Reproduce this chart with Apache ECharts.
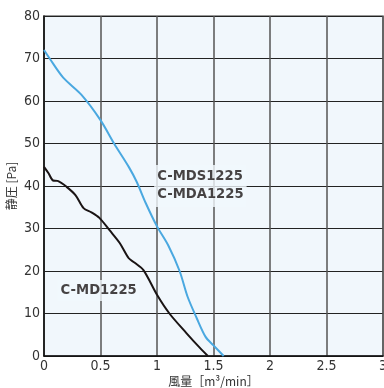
<!DOCTYPE html>
<html><head><meta charset="utf-8">
<script src="https://cdn.jsdelivr.net/npm/echarts@6/dist/echarts.min.js"></script>
<style>html,body{margin:0;padding:0;background:#fff}#c{width:384px;height:388px}</style>
</head><body><div id="c"></div>
<script>
const xTicks = ['0','0.5','1','1.5','2','2.5','3'];
const yTicks = [0,10,20,30,40,50,60,70,80];
const blueName = 'C-MDS1225\nC-MDA1225';
const blackName = 'C-MD1225';
const blueX = [0,0.05,0.17,0.33,0.5,0.62,0.75,0.82,0.9,1.0,1.1,1.2,1.27,1.35,1.43,1.5,1.59];
const blueY = [72,70,65.5,61.5,55.5,50,44.5,41,36,30.5,26,20,14,9,4.5,2.5,0];
const blackX = [0,0.04,0.08,0.12,0.2,0.28,0.35,0.42,0.49,0.58,0.67,0.75,0.8,0.88,1.0,1.11,1.26,1.38,1.45];
const blackY = [44.5,43,41.3,41.2,39.8,37.8,34.8,33.8,32.5,29.6,26.6,23,22,20.2,14.4,10,5.4,1.9,0];

const bg = '#f1f7fc';
const tickFont = {fontFamily:'"Liberation Sans Narrow","DejaVu Sans Condensed",sans-serif', fontSize:14, color:'#333'};
const lblFont = {fontFamily:'"DejaVu Sans",sans-serif',fontWeight:'bold',fontSize:13.2,color:'#1a1414',backgroundColor:bg,align:'left'};
const chart = echarts.init(document.getElementById('c'));
chart.setOption({
  animation:false,
  grid:{left:44,right:1,top:16,bottom:32,show:true,backgroundColor:bg,borderColor:'#777',borderWidth:1.5,
    containLabel:false,outerBoundsMode:'none'},
  xAxis:{type:'value',min:0,max:3,interval:0.5,
    name:'風量［m³/min］',nameLocation:'middle',nameGap:19,nameMoveOverlap:false,
    nameTextStyle:{fontFamily:'"Noto Sans CJK JP",sans-serif',fontSize:12,color:'#333'},
    axisLine:{show:true,lineStyle:{color:'#111',width:1.5}},axisTick:{show:false},
    axisLabel:Object.assign({margin:3,formatter:v=>xTicks[Math.round(v*2)]},tickFont),
    splitLine:{show:true,lineStyle:{color:'#555',width:1.5}}},
  yAxis:{type:'value',min:0,max:80,interval:10,
    name:'静圧 [Pa]',nameLocation:'middle',nameGap:27,nameMoveOverlap:false,
    nameTextStyle:{fontFamily:'"Noto Sans CJK JP",sans-serif',fontSize:12,color:'#333'},
    axisLine:{show:true,lineStyle:{color:'#111',width:1.5}},axisTick:{show:false},
    axisLabel:Object.assign({margin:4,formatter:v=>String(yTicks[v/10])},tickFont),
    splitLine:{show:true,lineStyle:{color:'#222',width:1.2}}},
  series:[
    {type:'line',name:blueName,data:blueX.map((x,i)=>[x,blueY[i]]),symbol:'none',smooth:0.3,
     lineStyle:{color:'#4aa8e0',width:2},z:3},
    {type:'line',name:blackName,data:blackX.map((x,i)=>[x,blackY[i]]),symbol:'none',smooth:0.3,
     lineStyle:{color:'#1a1414',width:2},z:3},
    {type:'scatter',data:[[0.975,40]],symbolSize:0,silent:true,z:5,
     label:Object.assign({show:true,position:'inside',formatter:blueName,lineHeight:18,padding:[3,3]},lblFont)},
    {type:'scatter',data:[[0.12,15.4]],symbolSize:0,silent:true,z:5,
     label:Object.assign({show:true,position:'inside',formatter:blackName,padding:[4,3]},lblFont)}
  ]
});
</script></body></html>
